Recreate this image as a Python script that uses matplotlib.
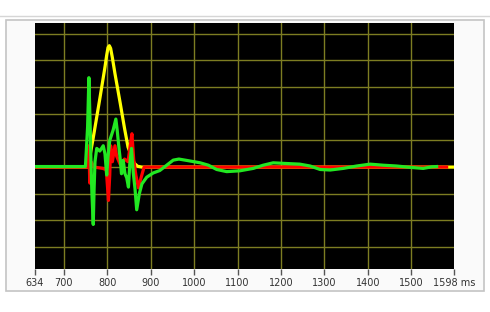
import matplotlib
matplotlib.use("Agg")
import matplotlib.pyplot as plt
from matplotlib.patches import Rectangle
from matplotlib.lines import Line2D

# ---- data (ms, value) ----
yellow_t = [634, 755, 758, 768, 783, 795, 799, 802, 805, 808, 812, 818, 830, 840, 848, 855, 862, 870, 880, 1598]
yellow_v = [0, 0, 0.2, 1.1, 2.55, 3.75, 4.2, 4.48, 4.55, 4.45, 4.1, 3.5, 2.4, 1.45, 0.75, 0.45, 0.15, 0.03, 0, 0]

red_t = [634, 755, 758, 760, 763, 770, 790, 798, 803, 806, 808, 812, 818, 822, 830, 840, 848, 853, 857, 861, 866, 872, 878, 885, 1581]
red_v = [0, 0, 0.8, -0.6, 0.2, 0.0, -0.05, -0.1, -1.25, -0.3, 0.8, 0.2, 0.8, 0.4, 0.1, 0.3, 0.2, 0.8, 1.25, 0.3, -0.3, -0.78, -0.4, 0, 0]

green_t = [634, 750, 752, 755, 758, 761, 763, 765, 768, 770, 772, 776, 783, 791, 795, 799, 802, 806,
           814, 820, 823, 826, 830, 833, 837, 841, 845, 849, 852, 856, 860, 864, 868, 874, 880, 891,
           906, 921, 937, 952, 965, 983, 1014, 1033, 1052, 1075, 1105, 1136, 1159, 1182, 1205, 1243,
           1267, 1290, 1313, 1343, 1374, 1405, 1435, 1466, 1497, 1527, 1547, 1558]
green_v = [0.02, 0.02, 0.6, 1.5, 3.35, 1.5, 0.0, -1.0, -2.15, -0.8, 0.2, 0.7, 0.6, 0.8, 0.5, -0.3, 0.4, 1.0,
           1.4, 1.8, 1.4, 0.9, 0.3, -0.25, 0.25, -0.25, -0.4, -0.75, 0.1, 0.7, -0.2, -0.8, -1.6, -1.0, -0.63, -0.38,
           -0.22, -0.13, 0.07, 0.26, 0.3, 0.25, 0.16, 0.07, -0.09, -0.17, -0.14, -0.05, 0.07, 0.16, 0.14, 0.11,
           0.04, -0.09, -0.11, -0.05, 0.04, 0.11, 0.07, 0.04, -0.01, -0.05, 0.01, 0.02]

x_ticks = [634, 700, 800, 900, 1000, 1100, 1200, 1300, 1400, 1500, 1598]
x_labels = ["634", "700", "800", "900", "1000", "1100", "1200", "1300", "1400", "1500", "1598 ms"]
grid_x = [700, 800, 900, 1000, 1100, 1200, 1300, 1400, 1500]
grid_y = [-3, -2, -1, 0, 1, 2, 3, 4, 5]

W, H = 490, 312
fig = plt.figure(figsize=(W / 100, H / 100), dpi=100)
fig.patch.set_facecolor("white")

# outer decoration (behind the axes)
fig.add_artist(Line2D([0, 1], [1 - 15.5 / H, 1 - 15.5 / H], transform=fig.transFigure,
                      color="#d6d6d6", lw=1.0, zorder=-2))
fig.add_artist(Rectangle((5.5 / W, 1 - 291 / H), (484 - 5.5) / W, (291 - 19.5) / H,
                         transform=fig.transFigure, facecolor="#fafafa",
                         edgecolor="#c4c4c4", lw=1.2, zorder=-2))

ax = fig.add_axes([35 / W, 1 - 269 / H, (454 - 35) / W, (269 - 23) / H])
ax.set_zorder(1)
ax.set_facecolor("black")
ax.set_xlim(634, 1598)
ax.set_ylim(-3.82, 5.4)

gcol = "#7d7d22"
for gx in grid_x:
    ax.axvline(gx, color=gcol, lw=1.0, zorder=1)
for gy in grid_y:
    ax.axhline(gy, color=gcol, lw=1.0, zorder=1)

lw = 2.3
ax.plot(yellow_t, yellow_v, color="#ffff00", lw=lw, zorder=2, solid_joinstyle="round")
ax.plot(red_t, red_v, color="#ff0000", lw=lw, zorder=3, solid_joinstyle="round")
ax.plot(green_t, green_v, color="#22e822", lw=lw, zorder=4, solid_joinstyle="round")

for s in ax.spines.values():
    s.set_visible(False)
ax.set_yticks([])
ax.set_xticks(x_ticks)
ax.set_xticklabels(x_labels, fontsize=7, color="#333333", family="DejaVu Sans")
ax.tick_params(axis="x", direction="out", length=4, width=1, color="#555555", pad=2.5)

fig.savefig("out.png", dpi=100, facecolor="white")
